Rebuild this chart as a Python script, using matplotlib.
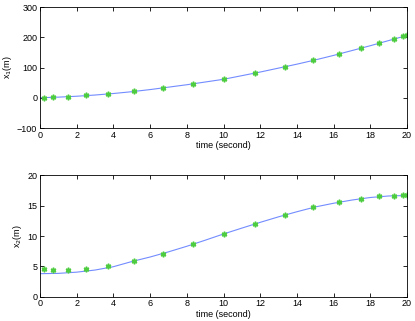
import matplotlib
matplotlib.use("Agg")
import matplotlib.pyplot as plt

# Sample points (green stars)
t_pts = [0.2, 0.7, 1.5, 2.5, 3.7, 5.1, 6.7, 8.35, 10.0, 11.7, 13.35, 14.9,
         16.3, 17.5, 18.5, 19.3, 19.8, 20.0]
x1_pts = [0, 1, 4, 8, 14, 22, 32, 45, 61, 82, 102, 124, 146, 164, 181, 194, 203, 206]
x2_pts = [4.5, 4.35, 4.4, 4.55, 5.0, 5.95, 7.1, 8.65, 10.35, 12.0, 13.5, 14.75,
          15.6, 16.2, 16.55, 16.67, 16.7, 16.7]

# Continuous trajectory (blue line)
t_line = list(range(0, 21))
x1_line = [0, 2, 5, 9, 14, 20, 27, 35, 43, 52, 61, 73, 85, 98, 111, 125, 140,
           156, 172, 189, 206]
x2_line = [3.8, 3.85, 4.05, 4.4, 4.95, 5.8, 6.55, 7.4, 8.32, 9.32, 10.35, 11.32,
           12.27, 13.18, 14.02, 14.81, 15.42, 15.95, 16.37, 16.62, 16.7]

xticks = [0, 2, 4, 6, 8, 10, 12, 14, 16, 18, 20]
yticks1 = [-100, 0, 100, 200, 300]
yticks2 = [0, 5, 10, 15, 20]

plt.rcParams['font.family'] = ['Liberation Sans', 'DejaVu Sans']
W, H = 415, 321
fig = plt.figure(figsize=(W / 100, H / 100), dpi=100)

line_color = (0.45, 0.55, 1.0)
pt_color = (0.3, 0.8, 0.25)

def setup(ax, yticks, ylab):
    ax.set_xlim(0, 20)
    ax.set_ylim(yticks[0], yticks[-1])
    ax.set_xticks(xticks)
    ax.set_yticks(yticks)
    ax.tick_params(direction='in', top=True, right=True, labelsize=6.5,
                   length=3, width=0.6, pad=2)
    for s in ax.spines.values():
        s.set_linewidth(0.6)
    ax.set_xlabel('time (second)', fontsize=6.5, labelpad=1)
    ax.set_ylabel(ylab, fontsize=6.5, labelpad=2)

ax1 = fig.add_axes([40 / W, 1 - 128 / H, 367 / W, 121 / H])
ax1.plot(t_line, x1_line, color=line_color, lw=0.8)
ax1.plot(t_pts, x1_pts, linestyle='none', marker=(6, 2, 0), color=pt_color,
         markersize=4, mew=1.1)
setup(ax1, yticks1, r'x$_1$(m)')

ax2 = fig.add_axes([40 / W, 1 - 296.7 / H, 367 / W, 121.2 / H])
ax2.plot(t_line, x2_line, color=line_color, lw=0.8)
ax2.plot(t_pts, x2_pts, linestyle='none', marker=(6, 2, 0), color=pt_color,
         markersize=4, mew=1.1)
setup(ax2, yticks2, r'x$_2$(m)')

fig.savefig('out.png', dpi=100)
